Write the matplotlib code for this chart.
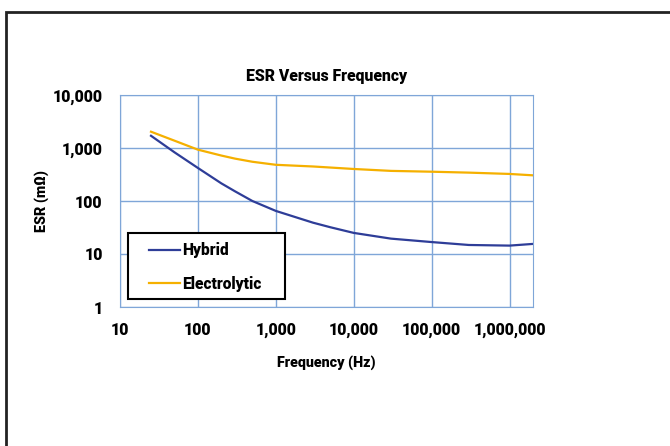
import matplotlib.pyplot as plt
from matplotlib.patches import Rectangle
from matplotlib.ticker import FixedLocator, NullLocator

# values
freq = [25, 50, 100, 200, 300, 500, 1000, 3000, 5000, 10000, 30000,
        100000, 300000, 1000000, 2000000]
hybrid = [1700, 830, 420, 215, 152, 100, 65, 39, 32, 25, 19.5,
          16.8, 14.8, 14.4, 15.5]
electrolytic = [2030, 1375, 930, 720, 630, 550, 482, 448, 428, 402, 370,
                357, 343, 324, 305]

x_ticks = [10, 100, 1000, 10000, 100000, 1000000]
x_labels = ["10", "100", "1,000", "10,000", "100,000", "1,000,000"]
y_ticks = [1, 10, 100, 1000, 10000]
y_labels = ["1", "10", "100", "1,000", "10,000"]

plt.rcParams['font.family'] = ['Roboto', 'DejaVu Sans']
bold = "heavy"

fig = plt.figure(figsize=(6.7, 4.46), dpi=100)
W, H = 670, 446
ax = fig.add_axes([120 / W, 1 - 307 / H, (533 - 120) / W, (307 - 95) / H])

grid_col = "#7FA6D8"
ax.plot(freq, hybrid, color="#2E3D98", lw=1.6, label="Hybrid")
ax.plot(freq, electrolytic, color="#F5B000", lw=1.6, label="Electrolytic")

ax.set_xscale("log")
ax.set_yscale("log")
ax.set_xlim(10, 2000000)
ax.set_ylim(1, 10000)
ax.xaxis.set_major_locator(FixedLocator(x_ticks))
ax.yaxis.set_major_locator(FixedLocator(y_ticks))
ax.xaxis.set_minor_locator(NullLocator())
ax.yaxis.set_minor_locator(NullLocator())
ax.set_xticklabels(x_labels, fontsize=11.5, fontweight=bold)
ax.set_yticklabels(y_labels, fontsize=11.5, fontweight=bold)
ax.tick_params(axis="y", length=0, pad=12.5)
ax.tick_params(axis="x", length=0, pad=11)
ax.grid(True, color=grid_col, lw=1)
for s in ax.spines.values():
    s.set_color(grid_col)

ax.set_title("ESR Versus Frequency", fontsize=11.3, fontweight=bold, pad=10)
ax.set_xlabel("Frequency (Hz)", fontsize=10.3, fontweight=bold, labelpad=12)
ax.set_ylabel("ESR (mΩ)", fontsize=10.3, fontweight=bold, labelpad=2.5)

# legend box drawn separately so its size matches the reference
ax.add_patch(Rectangle((128 / W, 1 - 299 / H), 157 / W, 66 / H,
                       transform=fig.transFigure, facecolor="white",
                       edgecolor="black", lw=1.5, zorder=4, clip_on=False))
leg = ax.legend(loc="upper left", bbox_to_anchor=(149 / W, 1 - 242 / H),
                bbox_transform=fig.transFigure, borderaxespad=0, borderpad=0,
                frameon=False, prop={"size": 11.2, "weight": bold},
                handlelength=2.0, handletextpad=0.1, labelspacing=1.14)
leg.set_zorder(5)

# outer frame of the figure
fig.patches.append(Rectangle((6 / W, -0.05), 1.2, 1 - 12 / H + 0.05,
                             transform=fig.transFigure, fill=False,
                             edgecolor="#222222", lw=2))

fig.savefig("out.png", dpi=100)
